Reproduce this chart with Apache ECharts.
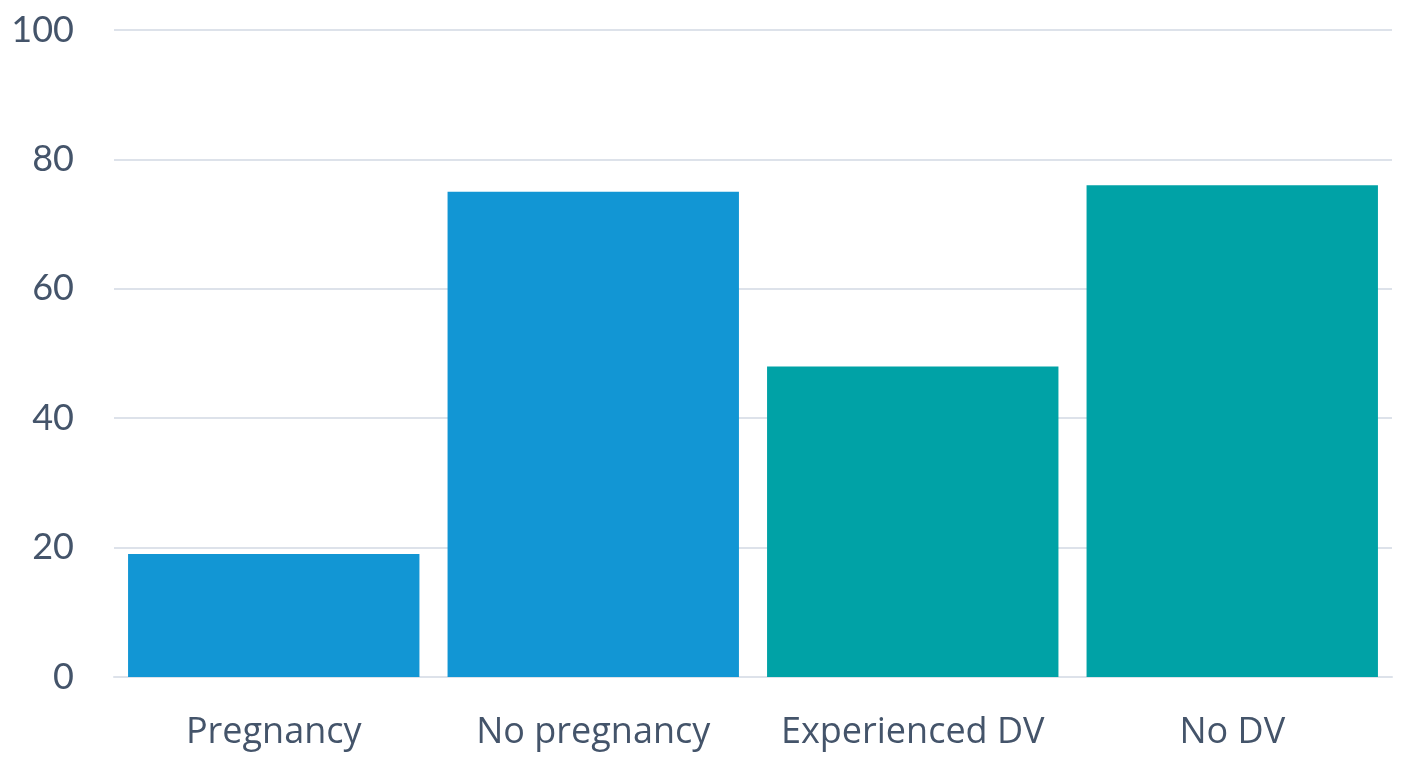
<!DOCTYPE html>
<html>
<head>
<meta charset="utf-8">
<script src="https://cdn.jsdelivr.net/npm/echarts@6/dist/echarts.min.js"></script>
<style>
  html, body { margin: 0; padding: 0; background: #fff; }
  #chart { width: 1408px; height: 765px; }
</style>
</head>
<body>
<div id="chart"></div>
<script>
const categories = ['Pregnancy', 'No pregnancy', 'Experienced DV', 'No DV'];
const values = [19, 75, 48, 76];
const barColors = ['#1296D4', '#1296D4', '#00A2A6', '#00A2A6'];

const chart = echarts.init(document.getElementById('chart'));

const textColor = '#44546A';

chart.setOption({
  animation: false,
  grid: { left: 114, right: 16, top: 30, bottom: 88 },
  xAxis: {
    type: 'category',
    data: categories,
    axisTick: { show: false },
    axisLine: { lineStyle: { color: '#DDE2EA', width: 2 } },
    axisLabel: {
      interval: 0,
      color: textColor,
      fontSize: 36,
      fontFamily: '"Open Sans", sans-serif',
      margin: 38
    }
  },
  yAxis: {
    type: 'value',
    min: 0,
    max: 100,
    interval: 20,
    axisLine: { show: false },
    axisTick: { show: false },
    splitLine: { lineStyle: { color: '#DDE2EA', width: 2 } },
    axisLabel: { color: textColor, fontSize: 36, fontFamily: 'Lato, sans-serif', margin: 40 }
  },
  series: [{
    type: 'bar',
    barCategoryGap: '8.8%',
    data: values.map((v, i) => ({ value: v, itemStyle: { color: barColors[i] } }))
  }]
});
</script>
</body>
</html>
